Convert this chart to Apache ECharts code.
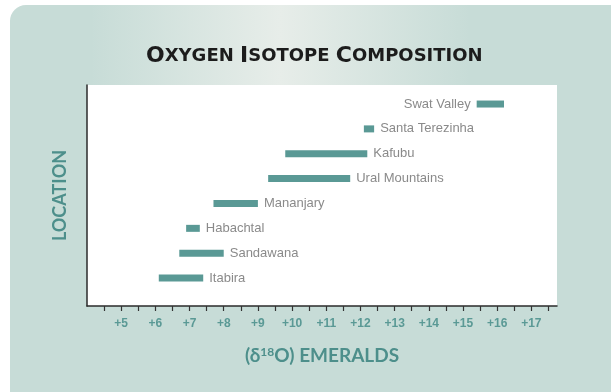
<!DOCTYPE html>
<html>
<head>
<meta charset="utf-8">
<script src="https://cdn.jsdelivr.net/npm/echarts@6/dist/echarts.min.js"></script>
<style>
  html, body { margin: 0; padding: 0; background: #fff; }
  #chart { width: 611px; height: 392px; }
</style>
</head>
<body>
<div id="chart"></div>
<script>
// Oxygen isotope ranges (δ18O, ‰) of emeralds by locality
const locations = ['Itabira', 'Sandawana', 'Habachtal', 'Mananjary', 'Ural Mountains', 'Kafubu', 'Santa Terezinha', 'Swat Valley'];
const deltaLow  = [6.1, 6.7, 6.9, 7.7, 9.3, 9.8, 12.1, 15.4];
const deltaHigh = [7.4, 8.0, 7.3, 9.0, 11.7, 12.2, 12.4, 16.2];

// x-axis: minor ticks every half unit, labels on whole units
const xTickValues = [4.5, 5, 5.5, 6, 6.5, 7, 7.5, 8, 8.5, 9, 9.5, 10, 10.5, 11, 11.5, 12, 12.5, 13, 13.5, 14, 14.5, 15, 15.5, 16, 16.5, 17, 17.5];
const xLabelValues = [5, 6, 7, 8, 9, 10, 11, 12, 13, 14, 15, 16, 17];
const xMin = 4, xMax = 17.75;

const TEAL = '#5a9995';
const TEAL_TEXT = '#4d8f8b';
const PANEL = '#c7dcd7';
const TITLE_FONT = "'DejaVu Sans', 'Lato', sans-serif";

const chart = echarts.init(document.getElementById('chart'), null, { renderer: 'canvas' });

const rangeData = locations.map((name, i) => ({
  value: +(deltaHigh[i] - deltaLow[i]).toFixed(2),
  label: { position: deltaHigh[i] > 15 ? 'left' : 'right' }
}));

const option = {
  backgroundColor: '#ffffff',
  animation: false,
  graphic: [
    { type: 'rect', z: -20, shape: { x: 10, y: 5, width: 640, height: 420, r: [16, 0, 0, 0] }, style: { fill: PANEL } },
    {
      type: 'rect', z: -19, shape: { x: 90, y: 5, width: 380, height: 82 },
      style: {
        fill: new echarts.graphic.LinearGradient(0, 0, 1, 0, [
          { offset: 0, color: 'rgba(231,237,233,0)' },
          { offset: 0.5, color: 'rgba(231,237,233,1)' },
          { offset: 1, color: 'rgba(231,237,233,0)' }
        ])
      }
    }
  ],
  title: {
    text: '{b|O}{s|XYGEN }{b|I}{s|SOTOPE }{b|C}{s|OMPOSITION}',
    left: 141,
    top: 40,
    textStyle: {
      rich: {
        b: { fontFamily: TITLE_FONT, fontWeight: 'bold', fontSize: 22, color: '#1c1c1c' },
        s: { fontFamily: TITLE_FONT, fontWeight: 'bold', fontSize: 18, color: '#1c1c1c' }
      }
    }
  },
  grid: [
    { left: 87, right: 54, top: 85, bottom: 86, show: true, backgroundColor: '#ffffff', borderWidth: 0 },
    { left: 87, right: 54, top: 91.6, bottom: 101.5 }
  ],
  xAxis: [
    {
      gridIndex: 0, type: 'value', min: xMin, max: xMax,
      axisLine: { show: true, lineStyle: { color: '#2b2b2b', width: 1.5 } },
      axisTick: { show: true, customValues: xTickValues, length: 5, lineStyle: { color: '#333', width: 1.2 } },
      axisLabel: {
        customValues: xLabelValues, formatter: v => '+' + v, margin: 12,
        color: TEAL, fontFamily: "'Liberation Sans', Arial, sans-serif", fontWeight: 'bold', fontSize: 12
      },
      splitLine: { show: false },
      name: '{p|(δ}{sup|18}{p|O) EMERALDS}',
      nameLocation: 'middle', nameGap: 40,
      nameTextStyle: {
        rich: {
          p: { fontFamily: 'Lato', fontWeight: 'bold', fontSize: 19, color: TEAL_TEXT },
          sup: { fontFamily: 'Lato', fontWeight: 'bold', fontSize: 12, color: TEAL_TEXT, verticalAlign: 'top', padding: [0, 0, 8, 0] }
        }
      }
    },
    { gridIndex: 1, type: 'value', min: xMin, max: xMax, show: false }
  ],
  yAxis: [
    {
      gridIndex: 0, type: 'value', min: 0, max: 1,
      axisLine: { show: true, lineStyle: { color: '#2b2b2b', width: 1.5 } },
      axisTick: { show: false }, axisLabel: { show: false }, splitLine: { show: false },
      name: 'LOCATION', nameLocation: 'middle', nameGap: 18,
      nameTextStyle: { fontFamily: 'Lato', fontWeight: 'bold', fontSize: 18, color: TEAL_TEXT }
    },
    { gridIndex: 1, type: 'category', data: locations, show: false }
  ],
  series: [
    {
      type: 'bar', xAxisIndex: 1, yAxisIndex: 1, stack: 'range', barWidth: 7,
      itemStyle: { color: 'transparent' }, silent: true,
      data: deltaLow
    },
    {
      type: 'bar', xAxisIndex: 1, yAxisIndex: 1, stack: 'range', barWidth: 7,
      itemStyle: { color: TEAL },
      label: {
        show: true, formatter: '{b}', distance: 6,
        color: '#8a8a8a', fontFamily: "'Liberation Sans', Arial, sans-serif", fontSize: 13
      },
      data: rangeData
    }
  ]
};

chart.setOption(option);
</script>
</body>
</html>
